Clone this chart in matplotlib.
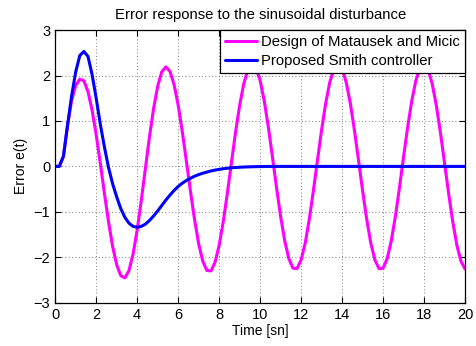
import matplotlib

matplotlib.use("Agg")

import matplotlib.pyplot as plt
import numpy as np

# time grid, 0.2 s steps
TIME = np.round(np.arange(0, 20.0001, 0.2), 1)

MATAUSEK = [
    0.0, 0.01, 0.22, 0.9, 1.45, 1.78, 1.92, 1.885, 1.645, 1.236,
    0.695, 0.068, -0.588, -1.215, -1.756, -2.165, -2.405, -2.453, -2.291, -1.929,
    -1.40, -0.751, -0.046, 0.651, 1.273, 1.765, 2.081, 2.19, 2.091, 1.802,
    1.348, 0.770, 0.119, -0.548, -1.172, -1.701, -2.084, -2.290, -2.299, -2.110,
    -1.738, -1.216, -0.591, 0.084, 0.749, 1.343, 1.817, 2.128, 2.249, 2.168,
    1.891, 1.444, 0.868, 0.211, -0.466, -1.100, -1.638, -2.029, -2.239, -2.249,
    -2.057, -1.688, -1.159, -0.530, 0.143, 0.804, 1.393, 1.854, 2.148, 2.25,
    2.149, 1.853, 1.392, 0.802, 0.142, -0.532, -1.160, -1.687, -2.057, -2.249,
    -2.239, -2.030, -1.639, -1.101, -0.464, 0.211, 0.867, 1.445, 1.891, 2.168,
    2.249, 2.127, 1.814, 1.337, 0.740, 0.074, -0.598, -1.218, -1.732, -2.086,
    -2.258,
]

SMITH = [
    0.0, 0.0, 0.22, 0.9, 1.55, 2.08, 2.44, 2.53, 2.42, 2.02,
    1.50, 0.93, 0.43, -0.02, -0.38, -0.67, -0.93, -1.12, -1.25, -1.32,
    -1.34, -1.32, -1.27, -1.19, -1.09, -0.98, -0.86, -0.74, -0.63, -0.53,
    -0.44, -0.37, -0.31, -0.26, -0.215, -0.18, -0.15, -0.125, -0.10, -0.08,
    -0.065, -0.05, -0.04, -0.031, -0.024, -0.018, -0.013, -0.01, -0.007, -0.005,
    -0.003, -0.002, -0.001, 0.0, 0.0, 0.0, 0.0, 0.0, 0.0, 0.0,
    0.0, 0.0, 0.0, 0.0, 0.0, 0.0, 0.0, 0.0, 0.0, 0.0,
    0.0, 0.0, 0.0, 0.0, 0.0, 0.0, 0.0, 0.0, 0.0, 0.0,
    0.0, 0.0, 0.0, 0.0, 0.0, 0.0, 0.0, 0.0, 0.0, 0.0,
    0.0, 0.0, 0.0, 0.0, 0.0, 0.0, 0.0, 0.0, 0.0, 0.0,
    0.0,
]

SERIES = (
    ("Design of Matausek and Micic", MATAUSEK, "#ff00ff"),
    ("Proposed Smith controller", SMITH, "#0000ff"),
)

X_TICKS = list(range(0, 21, 2))
Y_TICKS = list(range(-3, 4))

plt.rcParams.update({"font.family": ["Liberation Sans", "DejaVu Sans"], "font.size": 10})

fig = plt.figure(figsize=(4.76, 3.46), dpi=100)
ax = fig.add_axes([0.116, 0.125, 0.861, 0.788])

for label, values, color in SERIES:
    ax.plot(
        TIME,
        values,
        color=color,
        linewidth=2.2,
        label=label,
        solid_capstyle="round",
        solid_joinstyle="round",
    )

ax.set_xlim(0, 20)
ax.set_ylim(-3, 3)
ax.set_xticks(X_TICKS)
ax.set_yticks(Y_TICKS)
ax.set_yticklabels([f"{v}".replace("-", "\u2212") for v in Y_TICKS])
ax.grid(True, linestyle=(0, (1, 3)), color="#555555", linewidth=0.6)
ax.tick_params(direction="in", length=4, width=0.8, top=True, right=True, labelsize=10.5)
for spine in ax.spines.values():
    spine.set_linewidth(0.9)

ax.set_title("Error response to the sinusoidal disturbance", fontsize=10.7, pad=8)
ax.set_xlabel("Time [sn]", fontsize=10, labelpad=2)
ax.set_ylabel("Error e(t)", fontsize=10, labelpad=4)

leg = ax.legend(
    loc="upper right",
    bbox_to_anchor=(1.0, 1.0),
    borderaxespad=0,
    fancybox=False,
    framealpha=1,
    edgecolor="black",
    fontsize=10.7,
    handlelength=2.17,
    handletextpad=0.29,
    borderpad=0.33,
    labelspacing=0.34,
)
leg.get_frame().set_linewidth(0.9)

fig.savefig("out.png", dpi=100)
